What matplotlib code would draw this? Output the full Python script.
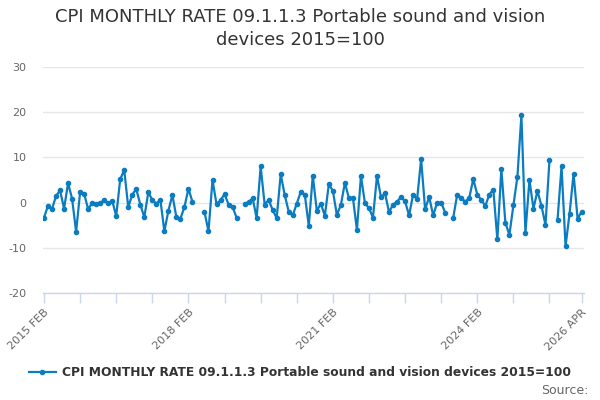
import numpy as np
import pandas as pd
import matplotlib
matplotlib.use("Agg")
import matplotlib.pyplot as plt
from matplotlib.lines import Line2D

nan = np.nan
title = "CPI MONTHLY RATE 09.1.1.3 Portable sound and vision devices 2015=100"
series_name = "CPI MONTHLY RATE 09.1.1.3 Portable sound and vision devices 2015=100"
months = [p.strftime("%Y %b").upper() for p in pd.period_range("2015-02", "2026-04", freq="M")]
values = [
    -3.3, -0.65, -1.4, 1.5, 2.7, -1.3, 4.3, 0.9, -6.4, 2.3,
    2.0, -1.4, -0.1, -0.3, -0.1, 0.6, -0.1, 0.4, -2.9, 5.2,
    7.2, -1.0, 1.8, 3.0, -0.4, -3.2, 2.3, 0.6, -0.2, 0.7,
    -6.3, -1.8, 1.7, -3.2, -3.5, -1.0, 3.1, 0.2, nan, nan,
    -2.05, -6.3, 5.0, -0.3, 0.5, 1.9, -0.4, -0.9, -3.3, nan,
    -0.2, 0.15, 1.0, -3.4, 8.0, -0.4, 0.6, -1.6, -3.4, 6.3,
    1.7, -2.0, -2.8, -0.2, 2.4, 1.8, -5.1, 6.0, -1.8, -0.2,
    -2.9, 4.1, 2.6, -2.7, -0.5, 4.4, 1.0, 1.1, -6.0, 5.9,
    -0.1, -1.2, -3.3, 5.9, 1.2, 2.1, -2.1, -0.4, 0.2, 1.3,
    0.3, -2.8, 1.8, 0.75, 9.6, -1.5, 1.3, -2.8, 0.0, 0.0,
    -2.2, nan, -3.3, 1.8, 1.1, 0.2, 1.1, 5.2, 1.8, 0.6,
    -0.7, 1.8, 2.9, -8.1, 7.4, -4.4, -7.1, -0.6, 5.7, 19.3,
    -6.6, 5.0, -1.3, 2.6, -0.7, -4.9, 9.5, nan, -3.8, 8.0,
    -9.6, -2.4, 6.4, -3.5, -2.0,
]
labeled_ticks = ["2015 FEB", "2018 FEB", "2021 FEB", "2024 FEB", "2026 APR"]
y_ticks = [-20, -10, 0, 10, 20, 30]

color = "#0c7cc1"
fig = plt.figure(figsize=(6, 4), dpi=100)
ax = fig.add_axes([43 / 600, 1 - 293.3 / 400, (584 - 43) / 600, (293.3 - 66.8) / 400])

x = np.arange(len(values))
ax.plot(x, values, color=color, lw=1.6, marker="o", ms=3.0, mec=color, mfc=color, zorder=3)

ax.set_xlim(-0.25, 134.6)
ax.set_ylim(-20, 30)

# ticks every 9 months plus final month
tick_pos = list(range(0, len(values), 9)) + [len(values) - 1]
tick_labels = [months[i] if months[i] in labeled_ticks else "" for i in tick_pos]
ax.set_xticks(tick_pos)
ax.set_xticklabels(tick_labels, rotation=45, ha="right", va="top", rotation_mode="anchor",
                   fontsize=8, color="#666666")
ax.tick_params(axis="x", length=7, width=1, color="#ccd6eb", pad=3)

ax.set_yticks(y_ticks)
ax.set_yticklabels([str(v) for v in y_ticks], fontsize=8, color="#666666")
ax.tick_params(axis="y", length=0, pad=12)

ax.grid(axis="y", color="#e6e6e6", lw=1)
ax.set_axisbelow(True)
for s in ["top", "right", "left"]:
    ax.spines[s].set_visible(False)
ax.spines["bottom"].set_color("#ccd6eb")
ax.spines["bottom"].set_linewidth(1)

fig.text(0.5, 1 - 8 / 400, title.replace(" devices", "\ndevices"), ha="center", va="top",
         fontsize=13, color="#333333", linespacing=1.35)

# legend
handle = Line2D([], [], color=color, lw=1.6, marker="o", ms=3.0)
fig.legend([handle], [series_name], loc="center", bbox_to_anchor=(0.5, 1 - 373 / 400),
           frameon=False, prop={"weight": "bold", "size": 8.8}, handlelength=2.2,
           handletextpad=0.5, labelcolor="#333333")

fig.text(589 / 600, 1 - 390 / 400, "Source:", ha="right", va="center", fontsize=9, color="#666666")

fig.savefig("out.png", dpi=100)
